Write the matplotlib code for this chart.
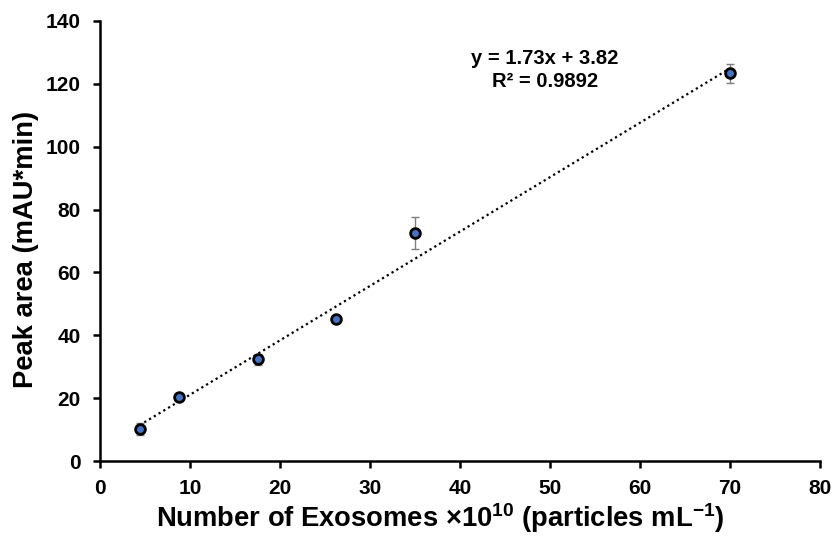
import numpy as np
import matplotlib.pyplot as plt

plt.rcParams['font.family'] = ['Liberation Sans', 'DejaVu Sans']
plt.rcParams['font.weight'] = 'bold'
plt.rcParams['mathtext.fontset'] = 'custom'
plt.rcParams['mathtext.rm'] = 'Liberation Sans:bold'
plt.rcParams['mathtext.bf'] = 'Liberation Sans:bold'
plt.rcParams['mathtext.default'] = 'bf'

exosomes = [4.375, 8.75, 17.5, 26.25, 35, 70]
peak_area = [10.2, 20.4, 32.4, 45.2, 72.5, 123.4]
err = [2.0, 1.2, 1.8, 0.8, 5.0, 3.0]
slope, intercept = 1.73, 3.82

fig = plt.figure(figsize=(8.35, 5.37), dpi=100)
ax = fig.add_axes([0.12, 0.1415, 0.862, 0.8195])

xs = np.array([min(exosomes), max(exosomes)])
ax.plot(xs, slope * xs + intercept, color='black', linestyle=(0, (1, 1.5)), linewidth=1.6, zorder=2)
ax.errorbar(exosomes, peak_area, yerr=err, fmt='none', ecolor='#7f7f7f',
            elinewidth=1, capsize=3, capthick=1, zorder=3)
ax.plot(exosomes, peak_area, 'o', markersize=7, markerfacecolor='#4472C4',
        markeredgecolor='black', markeredgewidth=2, zorder=4)

ax.text(49.4, 128.2, 'y = 1.73x + 3.82', ha='center', va='center', fontsize=14.5, fontweight='bold')
ax.text(49.4, 120.6, 'R² = 0.9892', ha='center', va='center', fontsize=14.5, fontweight='bold')

ax.set_xlim(0, 80)
ax.set_ylim(0, 140)
ax.set_xticks(range(0, 81, 10))
ax.set_yticks(range(0, 141, 20))
for s in ['top', 'right']:
    ax.spines[s].set_visible(False)
for s in ['left', 'bottom']:
    ax.spines[s].set_linewidth(1.8)
ax.tick_params(direction='out', width=1.8, length=5, labelsize=15)
ax.tick_params(axis='x', pad=8)
ax.tick_params(axis='y', pad=9)
for lab in ax.get_xticklabels() + ax.get_yticklabels():
    lab.set_fontweight('bold')

ax.set_xlabel('Number of Exosomes ×10$^{10}$ (particles mL$^{-1}$)',
              fontsize=19.7, fontweight='bold', labelpad=2)
ax.set_ylabel('Peak area (mAU*min)', fontsize=19.7, fontweight='bold', labelpad=5)
ax.xaxis.label.set_x(0.472)
ax.yaxis.label.set_y(0.48)

fig.savefig('out.png', dpi=100)
